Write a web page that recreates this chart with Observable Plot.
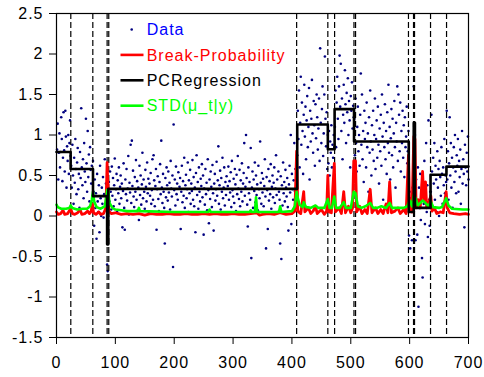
<!DOCTYPE html>
<html><head><meta charset="utf-8">
<script src="https://cdn.jsdelivr.net/npm/d3@7"></script>
<script src="https://cdn.jsdelivr.net/npm/@observablehq/plot@0.6"></script>
<style>
body{margin:0;background:#fff;}
#wrap{position:relative;width:484px;height:377px;}
#wrap svg{position:absolute;left:0;top:0;}
</style></head><body><div id="wrap"></div>
<script>
// Observed data, x = 1..700
const dataY = [
// 1-24
0.82,1.14,0.45,0.78,1.02,0.6,0.79,1.22,0.95,0.43,0.72,1.28,0.81,0.55,1.3,0.98,0.35,0.86,0.68,1.0,0.52,0.9,1.18,0.74,
// 25-62
0.62,0.35,0.88,0.5,0.15,0.72,0.41,0.95,0.58,0.27,0.66,0.84,0.33,0.52,0.1,0.79,0.47,1.33,0.6,0.38,
0.7,0.22,0.9,0.55,0.42,1.2,0.65,0.3,1.05,0.48,0.76,0.18,0.85,0.57,0.4,0.62,0.25,0.68,
// 63-85
0.3,-0.12,0.45,0.1,0.28,-0.28,0.52,0.18,0.05,0.38,-0.2,0.62,0.22,0.0,0.35,0.15,0.48,-0.02,0.27,0.7,0.12,0.4,0.08,
// 86-88
-0.6,-0.68,0.2,
// 89-408
0.42,0.18,0.55,0.3,0.08,0.61,0.25,0.47,0.12,0.38,0.71,0.2,0.33,0.52,0.05,0.44,0.28,0.6,0.15,0.36,
0.5,0.22,0.4,-0.14,0.31,0.65,0.1,-0.17,0.45,0.27,0.58,0.19,0.34,0.74,0.02,0.41,0.29,0.88,0.16,0.93,
0.37,0.56,0.24,0.11,0.48,0.3,0.69,0.2,0.43,0.07,0.35,-0.05,0.62,0.26,0.5,0.14,0.39,0.78,0.22,0.45,
0.3,0.09,0.57,0.36,0.18,0.66,0.28,0.46,0.04,0.4,0.25,0.53,0.15,0.32,0.7,0.2,0.75,0.44,0.12,0.37,
0.58,-0.17,0.33,0.49,0.21,0.06,0.42,0.64,0.27,0.93,0.35,0.16,0.52,0.3,0.1,-0.34,0.47,0.23,0.6,0.38,
0.19,0.55,0.29,0.41,0.08,0.68,0.34,0.24,0.5,-0.63,1.13,0.32,0.45,0.13,0.61,0.27,0.4,0.2,0.54,0.03,
0.36,0.47,-0.16,0.3,0.62,0.17,0.43,0.25,0.72,0.1,0.38,0.51,0.22,0.33,0.66,0.05,0.44,0.28,0.57,0.15,
0.4,0.31,0.69,0.2,0.48,0.12,0.35,-0.2,0.53,0.75,0.26,0.42,0.09,0.6,0.3,0.18,0.46,0.37,0.64,0.23,
0.5,-0.23,0.34,0.14,0.58,0.27,0.41,0.07,0.7,0.32,-0.09,0.45,0.21,0.55,0.36,0.11,0.63,0.28,-0.18,0.4,
0.52,0.19,0.33,0.67,0.25,0.44,0.86,0.15,0.38,0.56,0.08,0.47,0.3,0.72,0.22,0.35,0.6,0.13,0.42,0.26,
0.49,0.04,0.37,0.61,0.2,0.43,0.29,0.54,0.11,0.68,0.32,0.24,0.46,0.16,0.58,0.39,0.06,0.51,0.27,0.74,
0.34,0.21,0.57,0.12,0.44,0.3,0.65,0.18,0.4,0.53,0.9,0.25,0.36,1.0,0.47,0.14,-0.13,0.6,0.28,0.42,
0.2,0.84,-0.52,0.35,0.55,0.1,0.45,0.31,0.66,0.17,0.5,0.26,0.39,0.07,0.62,0.33,0.22,0.92,0.41,0.15,
0.53,0.29,0.46,0.12,0.37,0.7,0.24,-0.4,0.48,0.32,-0.16,0.58,0.19,0.43,0.27,0.64,0.09,0.36,0.5,0.23,
0.41,0.6,0.16,0.34,0.75,0.26,0.45,0.05,0.55,0.3,0.2,-0.34,0.49,-0.53,0.38,0.13,0.66,0.28,0.42,0.18,
0.57,0.35,0.24,0.47,0.11,-0.18,0.39,0.62,0.29,1.0,-0.1,0.52,0.33,0.2,0.44,0.9,0.31,0.58,0.15,0.4,
// 409-461
0.75,1.3,0.95,1.55,0.6,1.15,1.72,0.88,1.4,1.05,0.52,1.25,1.62,0.98,1.35,0.7,1.18,1.48,0.85,1.1,
1.58,0.45,1.3,0.92,1.2,1.68,1.02,0.78,1.42,1.12,0.62,1.38,0.96,1.5,1.22,0.82,1.08,1.45,0.68,2.07,
1.15,0.9,1.32,1.6,0.74,1.02,1.5,1.97,1.2,0.86,1.28,0.58,1.0,
// 462-472
0.65,1.05,0.5,0.92,0.78,1.12,0.6,0.88,0.72,1.0,0.85,
// 473-505
1.1,1.55,0.85,1.4,1.72,1.2,0.95,1.6,1.98,1.35,1.88,1.05,1.45,0.7,1.25,1.62,1.15,1.8,1.38,0.9,
1.52,1.28,1.7,1.0,1.42,1.18,0.6,1.48,1.3,1.65,1.08,1.36,1.22,
// 506-598
1.2,0.75,1.45,0.9,0.55,1.1,1.35,0.8,1.0,0.62,1.25,1.76,0.88,1.5,0.7,1.05,0.42,1.3,0.95,1.15,
0.6,1.4,0.85,1.02,0.3,1.22,0.78,1.55,0.92,0.5,1.12,0.82,1.3,0.68,1.0,1.45,0.58,0.95,1.18,0.72,
1.35,0.88,0.4,1.08,0.8,1.25,0.62,1.5,0.98,0.2,1.15,0.85,1.38,0.7,1.05,0.52,1.28,0.9,1.62,0.78,
1.1,0.45,0.96,1.32,0.75,1.2,0.6,1.02,1.42,0.85,0.35,1.15,0.92,1.6,0.68,1.5,1.25,0.8,1.4,0.55,
1.05,0.9,1.3,0.72,1.12,0.48,1.22,0.85,0.98,1.35,0.65,0.8,1.05,
// 599-606
-0.24,0.3,-0.4,0.22,0.1,-0.3,0.35,0.15,
// 607-609
1.6,0.85,1.0,
// 610-635
-0.3,0.45,0.2,-0.23,0.6,-1.12,0.35,0.1,0.52,-0.05,0.3,-0.52,-0.76,0.4,0.15,0.68,-0.1,0.25,0.9,0.05,
0.38,-0.26,1.18,0.2,-0.12,0.3,
// 636-662
0.3,1.25,0.55,0.1,0.72,0.4,0.9,0.2,0.62,0.45,0.05,0.8,0.35,0.58,0.0,0.68,0.48,0.25,0.85,0.52,
0.15,0.6,0.38,0.95,0.28,0.5,0.42,
// 663-700
1.3,0.45,0.8,0.2,0.65,1.22,0.5,0.9,0.35,0.72,0.1,0.6,0.85,0.42,1.0,0.55,0.28,0.75,0.62,0.95,
0.3,0.68,0.48,0.82,0.15,0.58,1.05,0.4,0.7,0.52,-0.14,0.88,0.6,0.38,0.78,0.55,0.98,0.45
];

// Piecewise-constant regression (segment start, level)
const stepX = [0,24,62,86,88,409,461,472.5,505.5,598.5,607,609,635.5,662.5,700];
const stepY = [0.79,0.58,0.245,-0.35,0.335,1.13,0.825,1.32,0.92,0.05,1.15,0.1,0.51,0.61,0.61];

// Detected break positions (dashed lines)
const breakX = [24.3,61.7,86,88.8,408,461,472.5,505.4,508.1,598,606.6,608.3,635.5,662.7];

// Break probability
const probX = [0,3,7,11,14,19,24,27,31,36,40,43,48,53,56,59,61,63,67,72,75,80,84,86,87,88,89,93,100,110,120,130,140,150,160,170,180,190,200,210,220,230,240,250,260,270,280,290,300,310,320,330,340,345,350,360,370,380,390,400,405,408,410,415,420,422,428,432,436,440,443,450,455,459,461,463,467,472,474,480,484,488,491,496,500,503,505,508,510,515,519,524,528,533,536,542,546,551,555,560,563,566,569,575,580,584,590,594,598,600,604,607,609,611,615,618,622,624,627,629,632,636,638,642,646,652,657,662,664,668,675,685,695,700];
const probY = [0.05,0.02,0.03,0.07,0.02,0.03,0.09,0.03,0.02,0.04,0.08,0.02,0.03,0.06,0.03,0.06,0.15,0.04,0.02,0.05,0.02,0.03,0.1,0.66,0.45,0.3,0.06,0.03,0.04,0.02,0.03,0.02,0.03,0.01,0.03,0.02,0.02,0.03,0.02,0.02,0.03,0.02,0.02,0.03,0.02,0.03,0.02,0.02,0.03,0.02,0.02,0.03,0.04,0.01,0.02,0.03,0.02,0.04,0.02,0.03,0.06,0.8,0.06,0.03,0.3,0.05,0.1,0.03,0.06,0.12,0.03,0.08,0.02,0.06,0.5,0.05,0.04,0.65,0.05,0.1,0.03,0.3,0.04,0.12,0.04,0.1,0.68,0.68,0.05,0.12,0.03,0.08,0.03,0.33,0.04,0.1,0.03,0.08,0.03,0.15,0.04,0.42,0.04,0.06,0.1,0.03,0.08,0.03,0.75,0.1,0.05,0.98,0.95,0.1,0.2,0.1,0.55,0.2,0.42,0.1,0.15,0.25,0.06,0.1,0.03,0.05,0.04,0.3,0.1,0.04,0.03,0.02,0.03,0.02];

// STD(mu_t|y)
const stdX = [0,2,8,16,22,24,27,35,45,52,57,60,62,64,68,75,82,85,86,88,90,95,100,110,120,138,140,142,200,258,260,262,300,328,330,332,337,339,341,378,380,382,400,405,408,410,413,418,420,424,432,440,445,455,461,464,468,472,475,481,488,492,500,505,508,512,518,525,533,538,545,552,560,566,570,580,590,596,600,604,607,610,614,622,627,632,636,640,650,655,662,666,672,690,700];
const stdY = [0.14,0.11,0.09,0.09,0.1,0.13,0.1,0.08,0.09,0.09,0.12,0.2,0.3,0.18,0.11,0.09,0.12,0.25,0.32,0.3,0.16,0.1,0.08,0.07,0.06,0.06,0.1,0.06,0.05,0.05,0.08,0.05,0.05,0.05,0.07,0.05,0.05,0.23,0.05,0.05,0.12,0.05,0.06,0.12,0.3,0.22,0.14,0.11,0.17,0.11,0.1,0.13,0.1,0.1,0.21,0.1,0.1,0.24,0.1,0.1,0.17,0.1,0.1,0.3,0.28,0.12,0.1,0.12,0.16,0.1,0.1,0.12,0.1,0.16,0.1,0.1,0.1,0.12,0.19,0.12,0.26,0.22,0.13,0.19,0.16,0.12,0.18,0.11,0.1,0.11,0.22,0.13,0.09,0.08,0.08];

const xTicks = [0,100,200,300,400,500,600,700];
const yTicks = [-1.5,-1,-0.5,0,0.5,1,1.5,2,2.5];
const legendLabels = ["Data","Break-Probability","PCRegression","STD(\u03bc_t|y)"];
const legendColors = ["#0000ff","#ff0000","#000000","#00ff00"];
const dotColor = "#000080";

const points = dataY.map((y,i)=>({x:i+1,y}));
const prob = probX.map((x,i)=>({x,y:probY[i]}));
const std = stdX.map((x,i)=>({x,y:stdY[i]}));
const step = stepX.map((x,i)=>({x,y:stepY[i]}));

const font = "'Liberation Sans', Arial, sans-serif";
const chart = Plot.plot({
  width:484, height:377,
  marginLeft:56, marginRight:16, marginTop:13, marginBottom:40,
  style:{fontFamily:font, fontSize:"16px", letterSpacing:"1px", background:"white", color:"black", overflow:"visible"},
  x:{domain:[0,700], ticks:xTicks, tickSize:7, tickPadding:12, tickFormat:d=>String(d), label:null},
  y:{domain:[-1.5,2.5], ticks:yTicks, tickSize:7, tickPadding:6, tickFormat:d=>String(d), label:null},
  marks:[
    Plot.dot(points,{x:"x",y:"y",r:1.3,fill:dotColor,stroke:null}),
    Plot.ruleX(breakX,{stroke:"black",strokeWidth:1.2,strokeDasharray:"6,3"}),
    Plot.line(prob,{x:"x",y:"y",stroke:"#ff0000",strokeWidth:2.8}),
    Plot.line(std,{x:"x",y:"y",stroke:"#00ff00",strokeWidth:2.6}),
    Plot.line(step,{x:"x",y:"y",curve:"step-after",stroke:"black",strokeWidth:2.6}),
    Plot.frame({stroke:"black",strokeWidth:1.2})
  ]
});
const wrap = document.getElementById("wrap");
wrap.appendChild(chart);

// Legend overlay
const lg = d3.select(wrap).append("svg").attr("width",484).attr("height",377)
  .style("pointer-events","none").style("font-family",font).style("font-size","16px").style("letter-spacing","1px");
legendLabels.forEach((label,i)=>{
  const cy = 29.5 + i*25.4;
  if(i===0){
    lg.append("circle").attr("cx",131.7).attr("cy",cy).attr("r",1.3).attr("fill",dotColor);
  } else {
    lg.append("line").attr("x1",120.5).attr("x2",143.5).attr("y1",cy).attr("y2",cy)
      .attr("stroke",legendColors[i]).attr("stroke-width",2.6);
  }
  lg.append("text").attr("x",146.7).attr("y",cy+5.7).attr("fill",legendColors[i]).text(label);
});
</script></body></html>
